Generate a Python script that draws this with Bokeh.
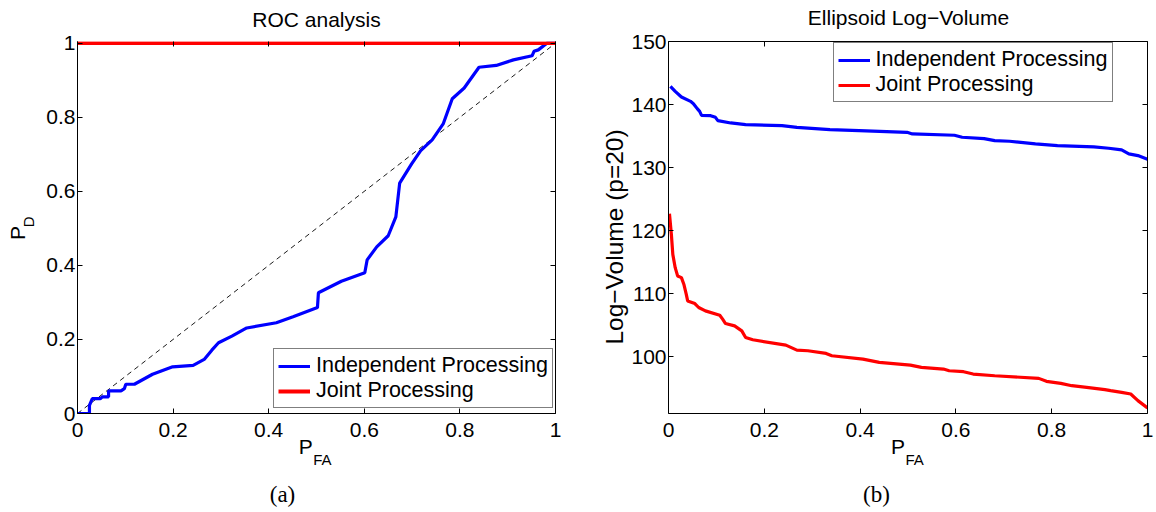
import math
from bokeh.plotting import figure
from bokeh.models import (Label, Legend, LegendItem, LinearAxis, FixedTicker,
                          NumeralTickFormatter, Range1d)
from bokeh.layouts import row
from bokeh.embed import file_html
from bokeh.resources import INLINE

# ---------------- data ----------------
roc_pfa = [0, 0.025, 0.025, 0.031, 0.048, 0.052, 0.065, 0.065, 0.091, 0.098,
           0.101, 0.119, 0.157, 0.199, 0.242, 0.265, 0.281, 0.295, 0.323, 0.354,
           0.416, 0.451, 0.502, 0.504, 0.552, 0.601, 0.606, 0.626, 0.650, 0.666,
           0.674, 0.699, 0.718, 0.742, 0.765, 0.784, 0.809, 0.840, 0.876, 0.912,
           0.951, 0.955, 0.964, 0.982, 1.0]
roc_pd_independent = [0, 0, 0.022, 0.04, 0.04, 0.045, 0.045, 0.061, 0.061, 0.067,
                      0.079, 0.079, 0.106, 0.126, 0.130, 0.146, 0.171, 0.191, 0.209, 0.231,
                      0.245, 0.261, 0.286, 0.326, 0.357, 0.380, 0.415, 0.450, 0.480, 0.531,
                      0.622, 0.674, 0.710, 0.739, 0.782, 0.850, 0.879, 0.935, 0.940, 0.955,
                      0.966, 0.978, 0.982, 1.0, 1.0]
roc_joint_pfa = [0.0, 1.0]
roc_joint_pd = [1.0, 1.0]
chance_pfa = [0.0, 1.0]
chance_pd = [0.0, 1.0]

lv_pfa_independent = [0.004, 0.014, 0.027, 0.046, 0.052, 0.060, 0.065, 0.069, 0.088, 0.098,
                      0.103, 0.130, 0.161, 0.237, 0.268, 0.337, 0.398, 0.498, 0.509, 0.597,
                      0.613, 0.659, 0.681, 0.712, 0.766, 0.812, 0.888, 0.919, 0.946, 0.961,
                      0.980, 1.0]
lv_independent = [142.88, 142.09, 141.19, 140.51, 140.14, 139.35, 138.92, 138.29, 138.24, 137.97,
                  137.45, 137.08, 136.81, 136.66, 136.39, 136.02, 135.87, 135.60, 135.34, 135.13,
                  134.81, 134.60, 134.28, 134.18, 133.76, 133.49, 133.28, 133.07, 132.81, 132.17,
                  131.91, 131.33]
lv_pfa_joint = [0.002, 0.006, 0.009, 0.014, 0.019, 0.027, 0.032, 0.037, 0.040, 0.055,
                0.063, 0.077, 0.107, 0.113, 0.119, 0.138, 0.153, 0.161, 0.176, 0.245,
                0.268, 0.291, 0.329, 0.341, 0.406, 0.440, 0.505, 0.528, 0.574, 0.586,
                0.616, 0.636, 0.681, 0.773, 0.789, 0.819, 0.842, 0.873, 0.911, 0.923,
                0.946, 0.965, 0.980, 1.0]
lv_joint = [122.68, 119.41, 116.24, 114.13, 112.82, 112.55, 111.50, 109.92, 108.86, 108.44,
            107.81, 107.28, 106.59, 105.96, 105.27, 104.90, 104.11, 103.06, 102.69, 101.85,
            101.05, 100.95, 100.53, 100.16, 99.63, 99.10, 98.68, 98.31, 98.05, 97.78,
            97.63, 97.26, 96.99, 96.57, 96.10, 95.78, 95.41, 95.15, 94.78, 94.62,
            94.36, 94.09, 93.04, 91.88]

pfa_ticks = [0, 0.2, 0.4, 0.6, 0.8, 1.0]
pd_ticks = [0, 0.2, 0.4, 0.6, 0.8, 1.0]
lv_ticks = [100, 110, 120, 130, 140, 150]

series_names = ["Independent Processing", "Joint Processing"]
titles = ["ROC analysis", "Ellipsoid Log\u2212Volume"]
lv_label = "Log\u2212Volume (p=20)"
captions = ["(a)", "(b)"]

# ---------------- styling ----------------
FONT = "Liberation Sans"
SERIF = "Liberation Serif"
FS = "21px"
LEG_FS = "21.5px"
SUB_FS = "15px"
BLUE = "#0000ff"
RED = "#ff0000"
LW = 3.2
H = 510


def make_panel(width, x_off, bl, br, bt, fh, xr, yr, xticks, yticks):
    bb = H - bt - fh
    p = figure(width=width, height=H, x_range=Range1d(*xr), y_range=Range1d(*yr),
               output_backend="svg", toolbar_location=None,
               min_border_left=bl, min_border_right=br, min_border_top=bt,
               min_border_bottom=bb)
    p.grid.visible = False
    p.outline_line_color = None
    p.background_fill_color = "white"
    p.border_fill_color = "white"
    for ax in p.xaxis + p.yaxis:
        ax.major_label_text_font = FONT
        ax.major_label_text_font_size = FS
        ax.major_label_text_color = "black"
        ax.axis_line_color = "black"
        ax.axis_line_width = 1
        ax.major_tick_in = 5
        ax.major_tick_out = 0
        ax.minor_tick_line_color = None
        ax.major_tick_line_color = "black"
        ax.formatter = NumeralTickFormatter(format="0.[0]")
    p.xaxis.ticker = FixedTicker(ticks=xticks)
    p.yaxis.ticker = FixedTicker(ticks=yticks)
    p.xaxis.major_label_standoff = 9
    p.yaxis.major_label_standoff = 2
    top = LinearAxis(ticker=FixedTicker(ticks=xticks))
    right = LinearAxis(ticker=FixedTicker(ticks=yticks))
    for ax in (top, right):
        ax.major_label_text_font_size = "1px"
        ax.major_label_text_color = None
        ax.major_label_standoff = 0
        ax.major_tick_in = 5
        ax.major_tick_out = 0
        ax.minor_tick_line_color = None
        ax.axis_line_color = "black"
        ax.major_tick_line_color = "black"
    p.add_layout(top, "above")
    p.add_layout(right, "right")
    frame = dict(x0=x_off + bl, y0=bt, fw=width - bl - br, fh=fh, xr=xr, yr=yr)
    return p, top, right, frame


def to_data(fr, px, py):
    x = fr["xr"][0] + (px - fr["x0"]) / fr["fw"] * (fr["xr"][1] - fr["xr"][0])
    y = fr["yr"][1] - (py - fr["y0"]) / fr["fh"] * (fr["yr"][1] - fr["yr"][0])
    return x, y


def add_text(p, fr, side, px, py, text, size=FS, font=FONT, align="left",
             angle=0.0):
    x, y = to_data(fr, px, py)
    p.add_layout(Label(x=x, y=y, text=text, text_font=font, text_font_size=size,
                       text_align=align, text_baseline="middle", angle=angle,
                       text_color="black"), side)


# ---------------- panel (a) ----------------
pa, top_a, right_a, fa = make_panel(580, 0, 77, 25, 41, 372, (0, 1), (0, 1.0046),
                                    pfa_ticks, pd_ticks)
top_a.axis_line_color = None
pa.line(chance_pfa, chance_pd, line_color="black", line_width=0.9, line_dash="5 4")
ra1 = pa.line(roc_pfa, roc_pd_independent, line_color=BLUE, line_width=LW)
ra2 = pa.line(roc_joint_pfa, roc_joint_pd, line_color=RED, line_width=LW + 0.6)

leg_a = Legend(items=[LegendItem(label=series_names[0], renderers=[ra1]),
                      LegendItem(label=series_names[1], renderers=[ra2])],
               location=(196, 5))
pa.add_layout(leg_a)

add_text(pa, fa, "above", 316, 18.7, titles[0], align="center")
add_text(pa, fa, "left", 17, 239.5, "P", angle=math.pi / 2)
add_text(pa, fa, "left", 27.5, 226.7, "D", size=SUB_FS, angle=math.pi / 2)
add_text(pa, fa, "below", 298.3, 445.8, "P")
add_text(pa, fa, "below", 312.7, 458.7, "FA", size=SUB_FS)
add_text(pa, fa, "below", 282, 494, captions[0], size="23px", font=SERIF,
         align="center")

# ---------------- panel (b) ----------------
pb, top_b, right_b, fb = make_panel(576, 580, 88, 9, 40, 373, (0, 1), (91.0, 150),
                                    pfa_ticks, lv_ticks)
rb1 = pb.line(lv_pfa_independent, lv_independent, line_color=BLUE, line_width=LW)
rb2 = pb.line(lv_pfa_joint, lv_joint, line_color=RED, line_width=LW)

leg_b = Legend(items=[LegendItem(label=series_names[0], renderers=[rb1]),
                      LegendItem(label=series_names[1], renderers=[rb2])],
               location=(164.6, 311))
pb.add_layout(leg_b)

add_text(pb, fb, "above", 908, 16, titles[1], align="center")
add_text(pb, fb, "left", 613.5, 236, lv_label, size="24.5px", align="center",
         angle=math.pi / 2)
add_text(pb, fb, "below", 890.5, 445.8, "P")
add_text(pb, fb, "below", 905, 458.7, "FA", size=SUB_FS)
add_text(pb, fb, "below", 876, 494, captions[1], size="23px", font=SERIF,
         align="center")

for leg in (leg_a, leg_b):
    leg.border_line_color = "black"
    leg.border_line_width = 1
    leg.background_fill_color = "white"
    leg.background_fill_alpha = 1
    leg.label_text_font = FONT
    leg.label_text_font_size = LEG_FS
    leg.label_text_color = "black"
    leg.glyph_width = 32
    leg.glyph_height = 20
    leg.label_height = 20
    leg.label_standoff = 6
    leg.padding = 4
    leg.spacing = 0
    leg.margin = 0

layout = row(pa, pb)
open("out.html", "w").write(file_html(layout, INLINE))
